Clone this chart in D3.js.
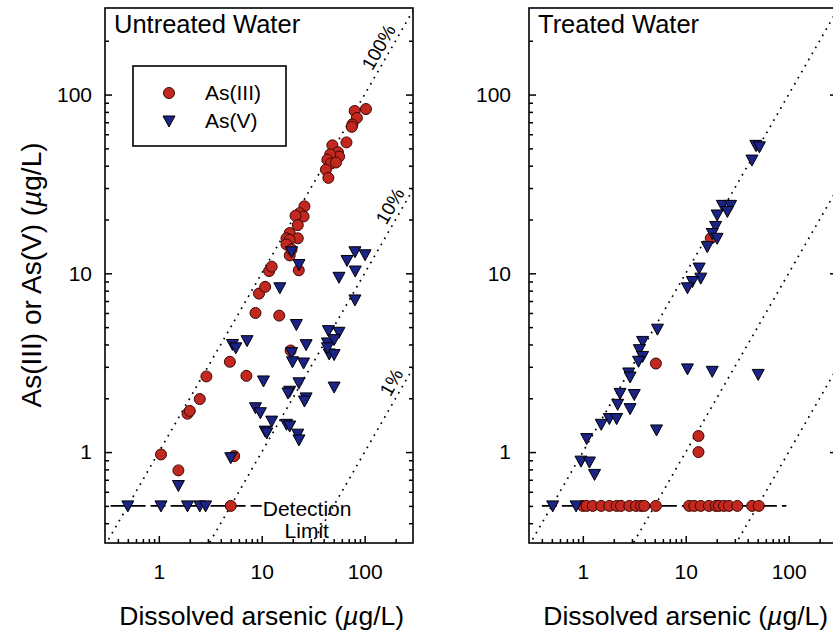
<!DOCTYPE html>
<html>
<head>
<meta charset="utf-8">
<script src="https://cdn.jsdelivr.net/npm/d3@7"></script>
<style>
  body { margin: 0; background: #fff; }
  svg { display: block; font-family: "Liberation Sans", Arial, sans-serif; }
</style>
</head>
<body>
<script>
// As(III) / As(V) against dissolved arsenic, untreated and treated water (ug/L)
const untreatedAs3X = [1.05, 1.55, 1.9, 2.0, 2.5, 2.9, 4.9, 7.1, 8.7, 14.8, 9.4, 10.8, 11.8, 12.5, 19.1, 22.9, 18.7, 5.0, 5.4, 103,
  80, 84, 76, 75, 66.6, 48.6, 55, 56.5, 46.3, 43.4, 47, 52.7, 42, 44.4, 26, 23.4, 25.5, 21.3, 22.4, 18.7, 17.4, 22.4, 18.7, 17.4, 19.5];
const untreatedAs3Y = [0.97, 0.79, 1.64, 1.7, 1.98, 2.65, 3.2, 2.67, 6.0, 5.8, 7.7, 8.4, 10.3, 10.9, 3.7, 10.4, 12.6, 0.5, 0.95, 83,
  81, 74, 68, 66, 54, 52, 47.6, 45, 46.3, 43.2, 41.1, 41.7, 38, 34.2, 23.7, 21.7, 20.8, 21, 18.6, 16.8, 15.7, 15.7, 15.4, 14.5, 13.6];

const untreatedAs5X = [0.5, 1.05, 1.9, 2.5, 2.85, 1.55, 5.0, 10.4, 23, 50.5, 18.7, 18, 27, 26, 8.7, 9.7, 12.5, 10.8, 11.2, 17.4,
  18.7, 22.4, 23, 7.2, 5.2, 5.6, 19.5, 19.9, 25.5, 27, 21.7, 44.5, 56.3, 43.5, 50.5, 45.3, 50.5, 43.5, 15.0, 23,
  19.5, 80.5, 101, 67.4, 81, 56.3, 80.5];
const untreatedAs5Y = [0.5, 0.5, 0.5, 0.5, 0.5, 0.65, 0.93, 2.5, 2.44, 2.31, 2.19, 2.14, 2.01, 1.93, 1.77, 1.66, 1.49, 1.31, 1.28, 1.43,
  1.40, 1.26, 1.17, 4.2, 4.0, 3.83, 3.6, 3.2, 3.15, 3.99, 5.17, 4.78, 4.68, 4.08, 4.26, 3.54, 3.51, 3.83, 8.3, 11.2,
  13.2, 13.2, 12.7, 11.8, 10.3, 9.5, 7.1];

const treatedAs3X = [17.5, 5.13, 13.3, 13.3, 1.0, 1.09, 1.25, 1.51, 1.81, 2.13, 2.35, 2.83, 3.29, 3.68, 3.96, 5.13,
  10.8, 12.1, 14.0, 16.8, 19.6, 21.0, 23.5, 26.3, 31.7, 44.2, 51.3];
const treatedAs3Y = [15.7, 3.13, 1.23, 1.0, 0.5, 0.5, 0.5, 0.5, 0.5, 0.5, 0.5, 0.5, 0.5, 0.5, 0.5, 0.5,
  0.5, 0.5, 0.5, 0.5, 0.5, 0.5, 0.5, 0.5, 0.5, 0.5, 0.5];

const treatedAs5X = [48, 52, 44, 22.7, 27.3, 25.4, 20.2, 19.5, 18.1, 20.2, 16.2, 13.5, 14.0, 11.6, 10.4, 5.31, 3.81, 3.54, 3.81, 3.48,
  2.79, 2.88, 10.4, 18.1, 50.6, 2.30, 3.16, 2.18, 2.88, 1.81, 2.13, 1.51, 5.2, 1.09, 0.96, 1.16, 1.30, 0.51, 0.86];
const treatedAs5Y = [52, 51, 43, 24, 24, 22.2, 21.2, 18.3, 16.7, 15.7, 14.1, 10.7, 9.4, 9.0, 8.3, 4.87, 4.16, 3.74, 3.43, 3.22,
  2.77, 2.63, 2.92, 2.83, 2.72, 2.13, 2.10, 1.85, 1.75, 1.54, 1.54, 1.43, 1.33, 1.19, 0.89, 0.88, 0.75, 0.5, 0.5];

const detectionLimit = 0.5;
const untreatedDetectionSpan = [0.34, 10];
const treatedDetectionSpan = [0.4, 95];

const ratioLines = [1, 0.1, 0.01];
const ratioLabels = ['100%', '10%', '1%'];
const ratioLabelAt = [171, 221, 228];

const majorTicks = [1, 10, 100];
const minorTicks = [0.4, 0.5, 0.6, 0.7, 0.8, 0.9, 2, 3, 4, 5, 6, 7, 8, 9, 20, 30, 40, 50, 60, 70, 80, 90, 200];

const red = '#c2281f';
const blue = '#1b2486';

const svg = d3.select('body')
  .append('svg')
  .attr('width', 833)
  .attr('height', 635);

svg.append('rect').attr('width', 833).attr('height', 635).attr('fill', '#fff');

const panelWidth = 308;
const plotTop = 8;
const plotBottom = 543;

const y = d3.scaleLog()
  .domain([0.31, 305])
  .range([plotBottom, plotTop]);

const zip = (a, b) => a.map((d, i) => [d, b[i]]);
const triangle = 'M-6,-5L6,-5L0,6Z';

const panels = [
  { left: 105, title: 'Untreated Water', as3: zip(untreatedAs3X, untreatedAs3Y), as5: zip(untreatedAs5X, untreatedAs5Y),
    span: untreatedDetectionSpan, extras: true, pad: 13 },
  { left: 529, title: 'Treated Water', as3: zip(treatedAs3X, treatedAs3Y), as5: zip(treatedAs5X, treatedAs5Y),
    span: treatedDetectionSpan, extras: false, pad: 18 },
];

panels.forEach((p, i) => drawPanel(p, i));

// y title
svg.append('text')
  .attr('transform', 'translate(41 275) rotate(-90)')
  .attr('text-anchor', 'middle')
  .attr('font-size', 28)
  .call(t => {
    t.append('tspan').text('As(III) or As(V) (');
    t.append('tspan').attr('font-style', 'italic').text('\u00b5');
    t.append('tspan').text('g/L)');
  });

function drawPanel (p, i) {
  const x = d3.scaleLog()
    .domain([0.3, 295])
    .range([p.left, p.left + panelWidth]);

  const g = svg.append('g');

  g.append('clipPath')
    .attr('id', 'clip' + i)
    .append('rect')
    .attr('x', p.left)
    .attr('y', plotTop)
    .attr('width', panelWidth)
    .attr('height', plotBottom - plotTop);

  const plot = g.append('g').attr('clip-path', `url(#clip${i})`);

  // dotted ratio lines
  ratioLines.forEach(r => {
    plot.append('line')
      .attr('x1', x(0.3)).attr('y1', y(0.3 * r))
      .attr('x2', x(295)).attr('y2', y(295 * r))
      .attr('stroke', '#000')
      .attr('stroke-width', 1.7)
      .attr('stroke-dasharray', '1.7,5.3');
  });

  // detection limit
  plot.append('line')
    .attr('x1', x(p.span[0])).attr('y1', y(detectionLimit))
    .attr('x2', x(p.span[1])).attr('y2', y(detectionLimit))
    .attr('stroke', '#000')
    .attr('stroke-width', 1.6)
    .attr('stroke-dasharray', '15,5');

  plot.selectAll('.as3')
    .data(p.as3)
    .enter()
      .append('circle')
      .attr('class', 'as3')
      .attr('cx', d => x(d[0]))
      .attr('cy', d => y(d[1]))
      .attr('r', 5.5)
      .attr('fill', red)
      .attr('stroke', '#3a0804')
      .attr('stroke-width', 1);

  plot.selectAll('.as5')
    .data(p.as5)
    .enter()
      .append('path')
      .attr('class', 'as5')
      .attr('d', triangle)
      .attr('transform', d => `translate(${x(d[0])} ${y(d[1])})`)
      .attr('fill', blue)
      .attr('stroke', '#000')
      .attr('stroke-width', 1);

  // axes, ticks pointing inward
  const xMajor = d3.axisBottom(x).tickValues(majorTicks).tickFormat(d3.format('d'))
    .tickSizeInner(-7).tickSizeOuter(0).tickPadding(21);
  const xMinor = d3.axisBottom(x).tickValues(minorTicks).tickFormat('')
    .tickSizeInner(-4).tickSizeOuter(0);
  const yMajor = d3.axisLeft(y).tickValues(majorTicks).tickFormat(d3.format('d'))
    .tickSizeInner(-7).tickSizeOuter(0).tickPadding(p.pad);
  const yMinor = d3.axisLeft(y).tickValues(minorTicks).tickFormat('')
    .tickSizeInner(-4).tickSizeOuter(0);
  const yMajorR = d3.axisRight(y).tickValues(majorTicks).tickFormat('')
    .tickSizeInner(-7).tickSizeOuter(0);
  const yMinorR = d3.axisRight(y).tickValues(minorTicks).tickFormat('')
    .tickSizeInner(-4).tickSizeOuter(0);

  [[xMajor, `translate(0 ${plotBottom})`], [xMinor, `translate(0 ${plotBottom})`],
   [yMajor, `translate(${p.left} 0)`], [yMinor, `translate(${p.left} 0)`],
   [yMajorR, `translate(${p.left + panelWidth} 0)`], [yMinorR, `translate(${p.left + panelWidth} 0)`]]
    .forEach(([axis, tr]) => {
      const a = g.append('g').attr('transform', tr).call(axis);
      a.select('.domain').remove();
      a.selectAll('line').attr('stroke', '#000').attr('stroke-width', 1.5);
      a.selectAll('text').attr('font-size', 21).attr('fill', '#000')
        .attr('font-family', '"Liberation Sans", Arial, sans-serif');
    });

  g.append('rect')
    .attr('x', p.left)
    .attr('y', plotTop)
    .attr('width', panelWidth)
    .attr('height', plotBottom - plotTop)
    .attr('fill', 'none')
    .attr('stroke', '#000')
    .attr('stroke-width', 1.6);

  g.append('text')
    .attr('x', p.left + 9)
    .attr('y', 33)
    .attr('font-size', 25.5)
    .text(p.title);

  g.append('text')
    .attr('x', x(10))
    .attr('y', 625)
    .attr('text-anchor', 'middle')
    .attr('font-size', 26.5)
    .call(t => {
      t.append('tspan').text('Dissolved arsenic (');
      t.append('tspan').attr('font-style', 'italic').text('\u00b5');
      t.append('tspan').text('g/L)');
    });

  if (!p.extras) return;

  // 100%, 10%, 1% labels along the lines
  const angle = Math.atan2(y(10) - y(100), x(100) - x(10)) * 180 / Math.PI;
  ratioLines.forEach((r, k) => {
    const lx = x(ratioLabelAt[k]);
    const ly = y(ratioLabelAt[k] * r);
    g.append('text')
      .attr('transform', `translate(${lx} ${ly}) rotate(${-angle})`)
      .attr('text-anchor', 'middle')
      .attr('dy', -5)
      .attr('font-size', 19)
      .text(ratioLabels[k]);
  });

  g.append('text')
    .attr('x', x(p.span[1]) + 1)
    .attr('y', y(detectionLimit) + 10)
    .attr('font-size', 21)
    .text('Detection');
  g.append('text')
    .attr('x', x(p.span[1]) + 45)
    .attr('y', y(detectionLimit) + 32)
    .attr('text-anchor', 'middle')
    .attr('font-size', 21)
    .text('Limit');

  // legend
  const lg = g.append('g');
  lg.append('rect')
    .attr('x', 133).attr('y', 66)
    .attr('width', 153).attr('height', 80)
    .attr('fill', '#fff')
    .attr('stroke', '#000')
    .attr('stroke-width', 1.6);
  lg.append('circle')
    .attr('cx', 169).attr('cy', 93).attr('r', 5.5)
    .attr('fill', red).attr('stroke', '#3a0804');
  lg.append('path')
    .attr('d', triangle)
    .attr('transform', 'translate(169 121)')
    .attr('fill', blue).attr('stroke', '#000');
  lg.append('text').attr('x', 205).attr('y', 100).attr('font-size', 21).text('As(III)');
  lg.append('text').attr('x', 205).attr('y', 128).attr('font-size', 21).text('As(V)');
}
</script>
</body>
</html>
